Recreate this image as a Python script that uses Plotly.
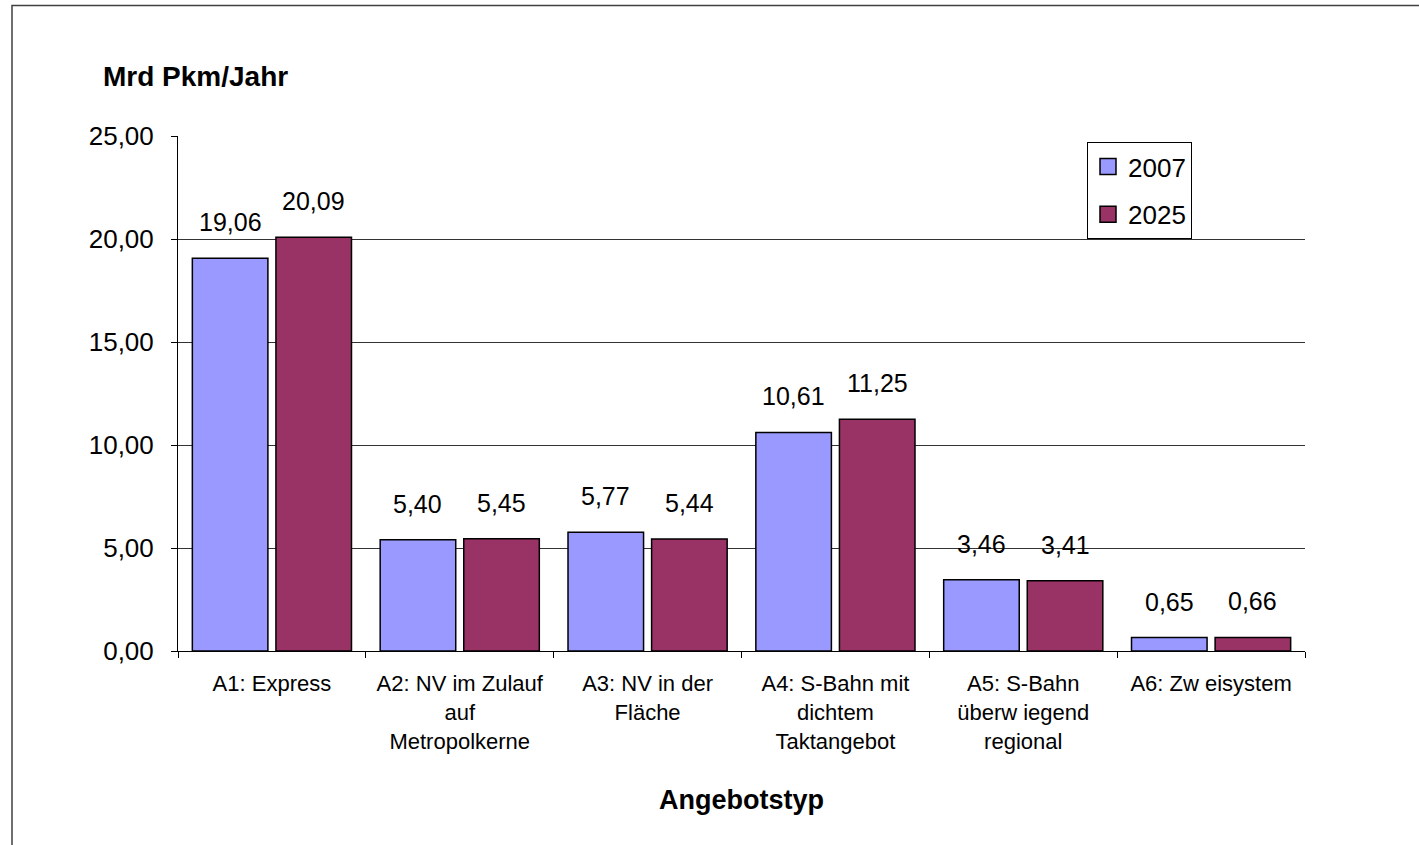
import plotly.graph_objects as go

categories = [
    "A1: Express",
    "A2: NV im Zulauf<br>auf<br>Metropolkerne",
    "A3: NV in der<br>Fläche",
    "A4: S-Bahn mit<br>dichtem<br>Taktangebot",
    "A5: S-Bahn<br>überw iegend<br>regional",
    "A6: Zw eisystem",
]
series_names = ["2007", "2025"]
values_2007 = [19.06, 5.40, 5.77, 10.61, 3.46, 0.65]
values_2025 = [20.09, 5.45, 5.44, 11.25, 3.41, 0.66]
colors = ["#9999FF", "#993366"]
y_ticks = [0, 5, 10, 15, 20, 25]

FONT = "Liberation Sans, Arial, sans-serif"
BARGAP = 0.11
GROUPGAP = 0.096

W, H = 1419, 845
L, R, T, B = 178, 114, 136, 194
plot_w = W - L - R
plot_h = H - T - B

fig = go.Figure()
for name, vals, col in zip(series_names, [values_2007, values_2025], colors):
    fig.add_trace(go.Bar(
        x=categories, y=vals, name=name, showlegend=False,
        marker=dict(color=col, line=dict(color="black", width=1.5)),
    ))
    # legend proxy with larger square symbol
    fig.add_trace(go.Scatter(
        x=[None], y=[None], mode="markers", name=name, legendgroup=name,
        marker=dict(symbol="square", size=16, color=col, line=dict(color="black", width=1.5)),
    ))

# data labels
cat_w = plot_w / len(categories)
offset_px = (1 - BARGAP) / 4 * cat_w
annotations = []
for sign, vals in zip([-1, 1], [values_2007, values_2025]):
    for c, v in zip(categories, vals):
        annotations.append(dict(
            x=c, y=v, xref="x", yref="y", text=f"{v:.2f}".replace(".", ","),
            showarrow=False, xshift=sign * offset_px, yshift=20, yanchor="bottom",
            font=dict(family=FONT, size=25, color="black"),
        ))

annotations.append(dict(
    x=(101 - L) / plot_w, y=(H - B - 77) / plot_h, xref="paper", yref="paper",
    text="<b>Mrd Pkm/Jahr</b>",
    showarrow=False, xanchor="left", yanchor="middle",
    font=dict(family=FONT, size=28, color="black"),
))
annotations.append(dict(
    x=(741 - L) / plot_w, y=(H - B - 800) / plot_h, xref="paper", yref="paper",
    text="<b>Angebotstyp</b>",
    showarrow=False, xanchor="center", yanchor="middle",
    font=dict(family=FONT, size=27, color="black"),
))

# outer frame (left and top visible)
shapes = [dict(
    type="rect", xref="paper", yref="paper",
    x0=(12 - L) / plot_w, x1=3, y0=-3, y1=(H - B - 5.5) / plot_h,
    line=dict(color="#404040", width=1.5), fillcolor="rgba(0,0,0,0)", layer="below",
)]

fig.update_layout(
    width=W, height=H,
    margin=dict(l=L, r=R, t=T, b=B, autoexpand=False),
    paper_bgcolor="white", plot_bgcolor="white",
    barmode="group", bargap=BARGAP, bargroupgap=GROUPGAP,
    separators=",.",
    font=dict(family=FONT, color="black"),
    annotations=annotations, shapes=shapes,
    legend=dict(
        x=(1087 - L) / plot_w, y=(H - B - 142) / plot_h, xanchor="left", yanchor="top",
        bordercolor="black", borderwidth=1, bgcolor="white",
        font=dict(family=FONT, size=26, color="black"), tracegroupgap=11,
    ),
)
fig.update_yaxes(
    range=[0, 25], tickvals=y_ticks, tickformat=".2f",
    showgrid=True, gridcolor="#333333", gridwidth=1,
    showline=True, linecolor="black", linewidth=1,
    ticks="outside", ticklen=6, tickcolor="black",
    tickfont=dict(family=FONT, size=26, color="black"), ticklabelstandoff=12,
    zeroline=False,
)
fig.update_xaxes(
    showline=True, linecolor="black", linewidth=1,
    ticks="outside", ticklen=6, tickcolor="black", tickson="boundaries",
    tickfont=dict(family=FONT, size=22, color="black"), ticklabelstandoff=13,
    tickangle=0,
)

fig.write_html("out.html", post_script="document.body.style.margin='0';",
               config={"displayModeBar": False})
